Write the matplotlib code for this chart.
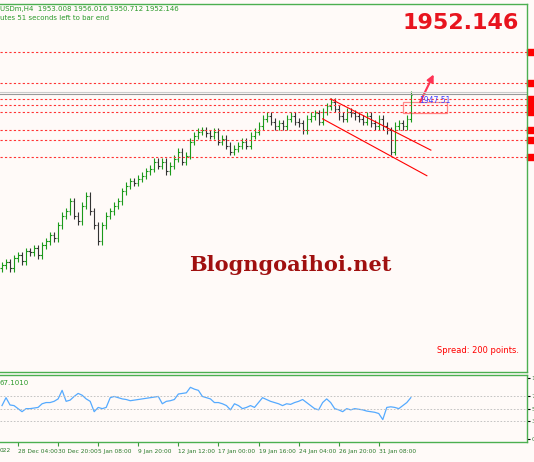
import matplotlib
matplotlib.use("Agg")
import matplotlib.pyplot as plt
import numpy as np
from matplotlib.patches import Rectangle, FancyArrowPatch

closes = [1832,1834,1830,1837,1839,1835,1842,1841,1844,1839,
          1846,1849,1853,1851,1860,1867,1870,1877,1867,1863,
          1874,1881,1870,1860,1849,1860,1867,1870,1874,1877,
          1884,1888,1891,1890,1893,1895,1898,1900,1905,1902,
          1905,1898,1902,1907,1912,1905,1909,1919,1923,1926,
          1927,1925,1923,1926,1919,1921,1916,1912,1914,1916,
          1919,1916,1923,1926,1930,1935,1937,1933,1930,1932,
          1930,1935,1937,1933,1932,1927,1935,1937,1939,1933,
          1940,1944,1947,1942,1937,1935,1940,1939,1937,1935,
          1933,1937,1932,1930,1935,1930,1927,1912,1930,1932,
          1930,1935,1952]
rsi = [55,68,56,55,50,45,50,50,51,52,
       58,60,60,62,66,80,62,64,70,75,
       72,66,62,45,52,50,52,68,70,68,
       66,65,63,64,65,66,67,68,69,70,
       58,62,63,65,74,75,76,85,82,80,
       70,68,66,60,60,58,55,48,58,55,
       50,52,55,52,60,68,65,62,60,58,
       55,58,57,60,62,65,60,55,50,48,
       60,66,60,50,48,45,50,48,50,49,
       48,46,45,44,42,32,52,53,52,50,
       55,60,68]
levels = [1982, 1960, 1949, 1945, 1940, 1927, 1920, 1908]
current = 1952.146
tick_idx = [4, 14, 24, 34, 44, 54, 64, 74, 84, 94]
tick_labels = ["28 Dec 04:00","30 Dec 20:00","5 Jan 08:00","9 Jan 20:00","12 Jan 12:00",
               "17 Jan 00:00","19 Jan 16:00","24 Jan 04:00","26 Jan 20:00","31 Jan 08:00"]

bg = "#fffaf8"
fig = plt.figure(figsize=(5.34, 4.62), dpi=100, facecolor=bg)
ax = fig.add_axes([0.0, 0.195, 0.987, 0.797], facecolor=bg)
ax2 = fig.add_axes([0.0, 0.043, 0.987, 0.145], facecolor=bg, sharex=ax)

opens = [closes[0] - 2] + closes[:-1]
x = np.arange(len(closes))
for i, (o, c) in enumerate(zip(opens, closes)):
    col = "#1a9a1a" if c >= o else "#333333"
    ax.vlines(i, min(o, c) - 2.5, max(o, c) + 2.5, color=col, lw=0.8)
    ax.hlines(o, i - 0.4, i, color=col, lw=0.8)
    ax.hlines(c, i, i + 0.4, color=col, lw=0.8)

for lv in levels:
    ax.axhline(lv, color="#ff3333", ls=(0, (2, 2)), lw=0.8)
    ax.add_patch(Rectangle((1.0, lv - 2.2), 0.02, 4.4, transform=ax.get_yaxis_transform(),
                           color="red", clip_on=False))
ax.axhline(current, color="#999999", lw=0.8)
ax.axhline(current + 2, color="#cccccc", lw=0.8)

ax.plot([82, 107], [1949, 1913], color="red", lw=0.8)
ax.plot([80, 106], [1935, 1895], color="red", lw=0.8)
ax.add_patch(Rectangle((100, 1939), 11, 8, fill=False, ec="#ff8888", lw=0.9))
ax.add_patch(FancyArrowPatch((104, 1945), (108, 1968), arrowstyle="-|>", mutation_scale=10,
                             color="#ff3355", lw=1.5))
ax.text(104, 1948, "1947.51", color="#4040ff", fontsize=5.5, va="center")

ax.set_xlim(-0.5, 131)
ax.set_ylim(1757, 2016)
ax.text(0.0, 0.995, "USDm,H4  1953.008 1956.016 1950.712 1952.146", transform=ax.transAxes,
        color="#2a9a2a", fontsize=5, va="top")
ax.text(0.0, 0.97, "utes 51 seconds left to bar end", transform=ax.transAxes,
        color="#2a9a2a", fontsize=5, va="top")
ax.text(0.985, 0.975, "1952.146", transform=ax.transAxes, color="#e8141e",
        fontsize=16, fontweight="bold", ha="right", va="top")
ax.text(0.55, 0.29, "Blogngoaihoi.net", transform=ax.transAxes, color="#a01010",
        fontsize=15, fontweight="bold", family="DejaVu Serif", ha="center", va="center")
ax.text(0.83, 0.05, "Spread: 200 points.", transform=ax.transAxes, color="red", fontsize=6)

ax2.plot(x, rsi, color="#55aaff", lw=0.9)
for lv in (30, 50, 70):
    ax2.axhline(lv, color="#bbbbbb", ls=(0, (2, 2)), lw=0.6)
ax2.set_ylim(-5, 105)
ax2.text(0.0, 0.93, "67.1010", transform=ax2.transAxes, color="#2a9a2a", fontsize=5, va="top")
ax2.set_xticks(tick_idx)
ax2.set_xticklabels(tick_labels, fontsize=4.2, color="#2a7a2a", ha="left")
ax2.tick_params(axis="x", length=3, color="#3a9a3a", pad=2)
ax2.set_yticks([0, 30, 50, 70, 100])
ax2.set_yticklabels(["0", "3", "5", "7", "1"], fontsize=4.5, color="#3a7a3a")
ax2.yaxis.tick_right()
ax2.tick_params(axis="y", length=2, pad=1)

ax.set_yticks([])
ax.tick_params(axis="x", bottom=False, labelbottom=False)
for a in (ax, ax2):
    for s in a.spines.values():
        s.set_color("#4caf50")
        s.set_linewidth(1.0)
    a.spines["left"].set_visible(False)

fig.text(0.0, 0.022, "022", fontsize=4.2, color="#2a7a2a")
fig.savefig("out.png", dpi=100, facecolor=bg)
